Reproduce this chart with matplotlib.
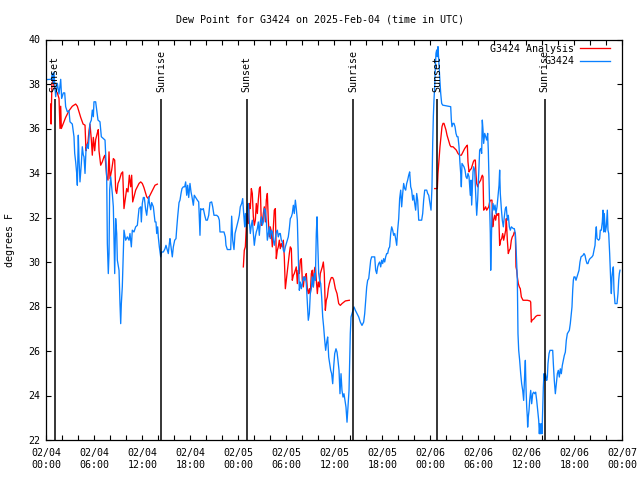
import matplotlib
matplotlib.use("Agg")
import matplotlib.pyplot as plt
import matplotlib.dates as mdates
import numpy as np
import pandas as pd

# ---------------- data (hours after 2025-02-04 00:00 UTC, dew point degF) ----------------
start_time = pd.Timestamp("2025-02-04 00:00")

obs_day1 = [(0.05,38.2),(0.63,38.21),(0.75,38.48),(0.88,38.03),(0.96,38.52),(1.17,37.43),(1.38,38.03),(1.59,37.55),(1.8,38.21),(1.92,37.35),(2.13,37.6),(2.3,37.6),(2.42,36.98),(2.63,36.75),(2.84,36.8),(2.96,36.3),(3.25,36.2),(3.46,35.63),(3.55,34.88),(3.67,34.5),(3.8,33.98),(3.88,33.45),(4.0,35.7),(4.09,34.6),(4.21,33.6),(4.38,34.43),(4.5,35.18),(4.63,34.8),(4.71,34.73),(4.84,33.98),(4.96,35.03),(5.13,35.3),(5.25,35.1),(5.46,36.23),(5.63,36.38),(5.75,36.83),(5.88,36.53),(5.96,37.2),(6.17,37.2),(6.3,36.83),(6.46,36.38),(6.71,36.3),(6.88,35.63),(7.13,35.55),(7.34,35.48),(7.55,33.83),(7.63,30.83),(7.75,29.48),(7.84,30.38),(7.92,33.23),(8.05,33.83),(8.25,33.08),(8.38,32.48),(8.46,31.13),(8.55,29.48),(8.67,31.95),(8.8,31.28),(8.88,30.08),(9.09,29.63),(9.21,28.13),(9.3,27.23),(9.38,28.13),(9.5,28.88),(9.63,30.45),(9.71,31.43),(9.92,30.98),(10.13,31.13),(10.34,30.98),(10.46,31.28),(10.63,30.68),(10.75,31.43),(10.96,31.35),(11.17,31.58),(11.38,31.65),(11.59,32.4),(11.8,32.48),(11.88,31.8),(12.0,32.63),(12.13,32.9),(12.25,32.9),(12.42,32.35),(12.55,32.1),(12.67,32.48),(12.8,32.93),(12.88,32.67),(13.05,32.35),(13.17,32.67),(13.38,32.48),(13.59,31.8),(13.71,31.8),(13.8,31.28),(13.92,31.58),(14.0,31.13),(14.13,30.68),(14.3,30.23),(14.42,30.45),(14.63,30.45),(14.84,30.6),(14.96,30.75),(15.13,30.53),(15.25,30.38),(15.38,30.83),(15.46,31.05),(15.59,30.68),(15.75,30.23),(15.88,30.68),(16.05,30.98),(16.21,31.05),(16.3,31.5),(16.42,32.03),(16.59,32.67),(16.71,32.78),(16.84,33.08),(16.96,33.3),(17.13,33.38),(17.3,33.38),(17.42,33.6),(17.55,33.0),(17.67,33.45),(17.8,32.9),(17.96,33.53),(18.09,33.15),(18.21,32.93),(18.38,32.55),(18.5,33.0),(18.67,32.9),(18.88,32.78),(19.05,32.7),(19.21,31.2),(19.3,32.4),(19.46,32.35),(19.63,32.4),(19.8,32.1),(19.96,31.88),(20.13,31.88),(20.3,32.1),(20.46,32.67),(20.67,32.7),(20.8,32.48),(20.96,32.1),(21.3,32.1),(21.5,32.03),(21.63,31.88),(21.71,31.35),(21.92,31.35),(22.21,31.35),(22.38,31.13),(22.46,30.75),(22.63,30.56),(22.88,30.56),(23.05,30.56),(23.17,32.06),(23.3,30.98),(23.46,30.56),(23.59,31.28),(23.8,31.58),(24.0,31.88)]

obs_day2 = [(24.13,32.1),(24.25,32.48),(24.42,32.63),(24.55,32.85),(24.67,32.18),(24.8,31.58),(24.88,32.18),(25.0,31.58),(25.13,32.48),(25.25,32.63),(25.38,31.8),(25.5,31.28),(25.63,31.65),(25.75,31.88),(25.88,31.28),(26.0,30.75),(26.13,31.13),(26.25,31.35),(26.38,31.5),(26.5,31.8),(26.63,31.2),(26.75,31.8),(26.88,32.03),(27.0,31.65),(27.13,31.8),(27.25,32.4),(27.38,32.33),(27.5,31.88),(27.63,30.98),(27.75,31.28),(27.88,31.58),(28.0,31.05),(28.13,31.43),(28.25,31.35),(28.38,30.98),(28.5,30.75),(28.63,31.05),(28.75,31.35),(28.88,31.43),(29.0,31.13),(29.13,31.28),(29.25,31.28),(29.38,30.98),(29.5,30.9),(29.63,30.53),(29.75,30.45),(29.88,30.68),(30.0,30.83),(30.13,30.98),(30.25,31.13),(30.38,31.5),(30.5,31.95),(30.63,32.03),(30.75,32.18),(30.88,32.55),(31.0,32.18),(31.13,32.78),(31.25,32.4),(31.38,31.88),(31.5,30.23),(31.63,28.73),(31.75,29.1),(31.88,28.8),(32.0,29.03),(32.13,29.33),(32.25,29.18),(32.38,29.33),(32.5,29.03),(32.63,28.13),(32.75,27.38),(32.88,27.68),(33.0,28.58),(33.13,28.8),(33.25,29.33),(33.38,28.88),(33.5,29.48),(33.63,29.18),(33.75,31.28),(33.84,32.03),(33.92,30.98),(34.05,29.48),(34.17,29.18),(34.3,29.03),(34.42,28.43),(34.55,27.53),(34.67,27.08),(34.8,26.48),(34.92,26.03),(35.05,26.4),(35.17,26.63),(35.3,25.73),(35.42,25.43),(35.55,25.13),(35.67,24.98),(35.8,24.53),(35.92,25.28),(36.05,25.88),(36.21,26.1),(36.34,25.95),(36.46,25.58),(36.59,25.13),(36.71,24.08),(36.84,24.98),(36.96,24.23),(37.09,23.93),(37.21,24.08),(37.34,23.78),(37.46,23.48),(37.59,22.8),(37.71,23.48),(37.84,24.23),(37.92,25.43),(38.0,26.78),(38.09,27.53),(38.21,27.68),(38.34,27.83),(38.46,27.98),(38.63,27.83),(38.84,27.68),(39.05,27.53),(39.25,27.3),(39.46,27.15),(39.67,27.3),(39.8,27.68),(39.92,28.28),(40.05,28.88),(40.17,29.18),(40.3,29.25),(40.42,29.63),(40.55,30.08),(40.67,30.23),(41.05,30.23),(41.17,29.63),(41.3,29.48),(41.42,29.78),(41.55,29.93),(41.67,30.0),(41.8,29.78),(41.92,30.08),(42.05,29.93),(42.17,30.15),(42.3,30.0),(42.42,30.23),(42.55,30.38),(42.67,30.38),(42.8,30.6),(42.92,30.68),(43.05,31.28),(43.17,31.58),(43.3,31.43),(43.42,31.2),(43.55,31.28),(43.67,31.05),(43.8,30.75),(43.92,31.43),(44.05,31.95),(44.17,32.85),(44.3,33.23),(44.42,32.48),(44.55,33.08),(44.67,33.53),(44.8,33.3),(44.92,33.23),(45.05,33.53),(45.17,33.68),(45.3,33.9),(45.42,34.05),(45.55,33.38),(45.67,33.23),(45.8,32.78),(45.92,33.0),(46.05,32.63),(46.17,32.33),(46.3,33.08),(46.42,32.78),(46.55,31.88),(46.92,31.88),(47.05,32.18),(47.17,32.78),(47.3,33.23),(47.55,33.23),(47.67,33.08),(47.8,33.0),(47.96,32.63)]

obs_day3 = [(48.09,32.33),(48.21,33.38),(48.3,35.33),(48.38,36.53),(48.46,37.28),(48.55,37.88),(48.63,38.78),(48.71,39.38),(48.8,39.53),(48.88,39.23),(48.96,39.68),(49.05,39.08),(49.17,38.33),(49.3,37.58),(49.42,37.13),(49.55,37.05),(50.55,36.98),(50.63,36.38),(50.71,36.08),(50.84,36.23),(50.96,36.23),(51.09,36.08),(51.21,35.78),(51.34,35.63),(51.46,35.63),(51.59,35.18),(51.71,34.43),(51.8,33.98),(51.88,33.38),(51.96,34.43),(52.09,34.35),(52.21,34.28),(52.34,34.13),(52.46,33.83),(52.59,33.75),(52.71,33.98),(52.84,33.83),(52.92,33.38),(53.0,33.0),(53.09,33.68),(53.17,32.56),(53.25,33.23),(53.34,34.05),(53.42,34.28),(53.55,34.13),(53.67,33.08),(53.8,32.1),(53.92,32.78),(54.05,33.98),(54.17,35.03),(54.3,35.1),(54.42,34.88),(54.5,36.38),(54.59,35.93),(54.67,35.33),(54.8,35.78),(54.92,35.63),(55.05,35.48),(55.17,35.78),(55.25,35.03),(55.34,33.68),(55.42,32.48),(55.5,31.28),(55.55,29.63),(55.63,30.98),(55.71,32.18),(55.84,32.63),(55.96,32.33),(56.09,32.56),(56.21,32.18),(56.34,32.48),(56.46,32.93),(56.59,33.45),(56.67,34.13),(56.75,33.08),(56.88,32.4),(57.0,31.88),(57.13,31.58),(57.25,32.03),(57.38,32.4),(57.5,32.48),(57.63,31.88),(57.75,32.1),(57.88,31.58),(58.0,31.43),(58.13,31.58),(58.38,31.5),(58.5,31.5),(58.63,31.28),(58.75,30.38),(58.88,29.18),(58.96,26.78),(59.05,26.03),(59.17,25.58),(59.3,24.98),(59.42,24.53),(59.55,24.23),(59.67,23.78),(59.8,24.98),(59.88,25.58),(59.96,24.38),(60.05,23.48),(60.13,23.03),(60.17,22.58),(60.25,23.03),(60.34,23.33),(60.42,23.78),(60.55,24.23),(60.67,23.63),(60.8,24.08),(60.92,24.15),(61.05,24.08),(61.17,24.15),(61.3,23.78),(61.42,23.33),(61.55,22.88),(61.63,22.28),(61.71,22.73),(61.8,22.28),(61.88,22.73),(61.96,22.28),(62.05,23.48),(62.13,24.38),(62.21,24.98),(62.3,24.68),(62.38,24.98),(62.46,24.83),(62.55,24.68),(62.63,24.83),(62.71,25.43),(62.84,25.88),(62.96,26.03),(63.3,26.03),(63.38,25.43),(63.5,24.68),(63.63,24.08),(63.75,24.53),(63.88,24.98),(64.0,25.13),(64.13,24.83),(64.25,25.2),(64.38,24.98),(64.5,25.35),(64.63,25.58),(64.75,25.8),(64.88,25.95),(65.0,26.48),(65.13,26.78),(65.38,26.93),(65.5,27.23),(65.63,27.68),(65.71,27.98),(65.8,28.73),(65.88,29.18),(65.96,29.33),(66.09,29.33),(66.21,29.18),(66.34,29.33),(66.46,29.48),(66.59,29.63),(66.71,30.0),(66.84,30.23),(67.09,30.3),(67.21,30.38),(67.34,30.3),(67.46,30.08),(67.59,29.93),(67.71,29.93),(67.84,30.08),(67.96,30.15),(68.21,30.23),(68.34,30.3),(68.46,30.53),(68.59,30.75),(68.67,31.28),(68.75,31.58),(68.84,31.05),(69.05,30.98),(69.17,31.05),(69.25,31.43),(69.38,31.43),(69.5,31.8),(69.59,32.33),(69.67,31.35),(69.75,32.18),(69.88,31.35),(70.0,31.58),(70.13,32.33),(70.21,31.43),(70.3,31.28),(70.42,30.38),(70.55,29.18),(70.63,28.58),(70.71,29.33),(70.8,29.63),(70.88,29.78),(70.96,28.73),(71.09,28.13),(71.34,28.13),(71.46,28.58),(71.55,29.18),(71.63,29.48),(71.71,29.63)]

analysis_day1 = [(0.55,37.1),(0.6,36.2),(0.7,38.0),(0.85,38.2),(0.96,37.9),(1.17,37.7),(1.38,37.6),(1.59,37.35),(1.71,36.0),(1.8,37.0),(1.88,36.0),(2.1,36.2),(2.42,36.5),(2.84,36.8),(3.25,37.0),(3.67,37.1),(3.88,37.0),(4.3,36.5),(4.6,36.2),(4.84,36.15),(4.96,35.0),(5.05,35.2),(5.21,35.4),(5.34,35.9),(5.46,36.2),(5.63,35.5),(5.75,34.8),(5.88,35.6),(6.05,35.0),(6.17,35.5),(6.38,35.8),(6.5,35.95),(6.59,35.0),(6.8,34.35),(7.0,34.5),(7.21,34.73),(7.34,34.8),(7.55,33.83),(7.71,33.68),(7.84,34.95),(7.96,33.75),(8.17,34.13),(8.38,34.65),(8.55,34.58),(8.67,33.23),(8.8,33.08),(8.96,33.53),(9.13,33.68),(9.38,33.98),(9.55,34.05),(9.71,32.4),(9.88,32.85),(10.05,33.3),(10.21,33.15),(10.38,33.9),(10.55,33.38),(10.67,33.9),(10.8,32.7),(10.96,32.93),(11.17,33.23),(11.38,33.38),(11.59,33.53),(11.8,33.6),(12.0,33.53),(12.2,33.35),(12.55,32.93),(12.75,32.85),(13.17,33.15),(13.59,33.45),(13.88,33.5)]

analysis_day2 = [(24.63,29.78),(24.75,30.53),(24.88,30.68),(25.0,31.58),(25.13,32.18),(25.25,31.73),(25.38,32.63),(25.5,32.4),(25.63,33.3),(25.75,33.08),(25.88,32.03),(26.0,31.65),(26.13,31.88),(26.25,32.63),(26.38,32.18),(26.5,32.78),(26.63,33.3),(26.75,33.38),(26.88,31.65),(27.0,31.8),(27.13,32.18),(27.25,32.48),(27.38,31.8),(27.5,32.78),(27.63,33.08),(27.75,31.88),(27.88,31.13),(28.0,31.58),(28.13,31.35),(28.25,30.68),(28.38,31.58),(28.5,32.33),(28.63,32.4),(28.75,30.15),(28.88,30.53),(29.0,30.68),(29.13,30.98),(29.25,30.6),(29.38,30.83),(29.5,30.68),(29.63,30.98),(29.75,30.23),(29.88,28.8),(30.0,29.18),(30.13,29.63),(30.25,30.0),(30.38,30.38),(30.5,30.68),(30.63,30.6),(30.75,29.18),(30.88,29.4),(31.0,29.48),(31.13,29.63),(31.25,29.78),(31.38,29.03),(31.5,29.63),(31.63,29.48),(31.75,30.08),(31.88,30.15),(32.0,29.18),(32.13,28.88),(32.25,29.33),(32.38,29.33),(32.5,29.48),(32.63,28.8),(32.75,28.58),(32.88,28.8),(33.0,28.58),(33.13,29.48),(33.25,29.63),(33.38,28.88),(33.5,29.63),(33.63,29.78),(33.75,29.18),(33.88,28.58),(34.0,29.1),(34.13,28.88),(34.25,29.48),(34.38,29.63),(34.5,29.78),(34.63,30.0),(34.75,29.48),(34.88,27.83),(35.0,28.28),(35.13,28.43),(35.25,28.8),(35.38,29.03),(35.5,29.18),(35.63,29.3),(35.79,29.3),(35.92,29.2),(36.13,28.8),(36.34,28.58),(36.55,28.13),(36.75,28.05),(36.96,28.13),(37.38,28.25),(37.88,28.28)]

analysis_day3 = [(48.55,33.3),(48.88,33.3),(48.96,33.98),(49.09,34.58),(49.21,35.18),(49.34,35.63),(49.46,36.08),(49.59,36.23),(49.71,36.23),(49.84,36.08),(49.96,35.93),(50.09,35.7),(50.21,35.55),(50.34,35.4),(50.46,35.25),(50.59,35.18),(50.84,35.18),(51.05,35.1),(51.25,35.03),(51.46,34.88),(51.67,34.8),(51.88,34.8),(52.09,34.95),(52.3,35.1),(52.5,35.2),(52.63,35.25),(52.71,34.5),(52.84,34.05),(52.96,34.13),(53.13,34.2),(53.25,34.35),(53.38,34.5),(53.5,34.58),(53.63,34.58),(53.71,33.98),(53.8,33.53),(53.92,33.38),(54.05,33.53),(54.17,33.6),(54.3,33.68),(54.42,33.83),(54.5,33.9),(54.59,33.83),(54.67,32.33),(54.8,32.4),(54.92,32.48),(55.05,32.33),(55.17,32.4),(55.3,32.48),(55.42,32.7),(55.55,32.78),(55.71,32.78),(55.8,31.58),(55.92,31.88),(56.05,32.1),(56.17,31.88),(56.3,32.18),(56.42,32.1),(56.55,32.18),(56.67,30.75),(56.8,30.98),(56.92,31.05),(57.05,31.28),(57.17,30.98),(57.3,31.2),(57.42,31.43),(57.5,31.95),(57.63,30.98),(57.75,30.38),(57.88,30.53),(58.0,30.6),(58.13,30.98),(58.25,31.13),(58.38,31.2),(58.5,31.35),(58.63,31.28),(58.71,29.78),(58.8,29.63),(58.88,29.33),(59.0,29.03),(59.13,28.88),(59.25,28.8),(59.38,28.43),(59.59,28.28),(59.8,28.28),(60.13,28.28),(60.46,28.25),(60.55,28.2),(60.63,27.3),(60.71,27.38),(60.96,27.45),(61.17,27.55),(61.38,27.6),(61.71,27.6)]

sun_event_hours = [1.05, 14.38, 25.05, 38.38, 48.88, 62.3]
sun_event_labels = ["Sunset", "Sunrise", "Sunset", "Sunrise", "Sunset", "Sunrise"]

title_text = "Dew Point for G3424 on 2025-Feb-04 (time in UTC)"
series_names = ["G3424 Analysis", "G3424"]

# ---------------- build series ----------------
def to_times(hours):
    return start_time + pd.to_timedelta(np.asarray(hours, dtype=float), unit="h")

obs = obs_day1 + obs_day2 + obs_day3
obs_h = [p[0] for p in obs]
obs_v = [p[1] for p in obs]

ana_h, ana_v = [], []
for seg in (analysis_day1, analysis_day2, analysis_day3):
    ana_h += [p[0] for p in seg] + [seg[-1][0] + 0.01]
    ana_v += [p[1] for p in seg] + [np.nan]

# ---------------- figure ----------------
FONT = "DejaVu Sans Mono"
FS = 7.2
plt.rcParams["font.family"] = FONT
plt.rcParams["font.size"] = FS

fig = plt.figure(figsize=(6.4, 4.8), dpi=100)
L, R, T, B = 46.3, 622.3, 39.5, 440.0
ax = fig.add_axes([L / 640, 1 - B / 480, (R - L) / 640, (B - T) / 480])

ax.plot(to_times(ana_h), ana_v, color="#ff0000", lw=0.95, label=series_names[0])
ax.plot(to_times(obs_h), obs_v, color="#0a80ff", lw=0.95, label=series_names[1])

ev_times = to_times(sun_event_hours)
ax.vlines(ev_times, 22, 37.32, color="black", lw=1.1)
for t, lab in zip(ev_times, sun_event_labels):
    ax.text(t, 37.64, lab, rotation=90, ha="center", va="bottom", fontsize=FS)

ax.set_xlim(start_time, start_time + pd.Timedelta(hours=72))
ax.set_ylim(22, 40)
ax.set_yticks(np.arange(22, 41, 2))

ax.xaxis.set_major_locator(mdates.HourLocator(byhour=[0, 6, 12, 18]))
ax.xaxis.set_minor_locator(mdates.HourLocator(byhour=range(0, 24, 2)))
ax.xaxis.set_major_formatter(mdates.DateFormatter("%m/%d\n%H:%M"))

ax.tick_params(which="both", direction="in", top=True, right=True,
               length=3.3, width=0.8, color="black", labelsize=FS)
ax.tick_params(axis="x", which="major", pad=5.5)
ax.tick_params(axis="y", which="major", pad=4)
for lbl in ax.get_xticklabels():
    lbl.set_linespacing(1.3)
for s in ax.spines.values():
    s.set_linewidth(0.9)
    s.set_color("black")

fig.text(0.5, 1 - 19 / 480, title_text, ha="center", va="center", fontsize=FS)
fig.text(10 / 640, 1 - 240 / 480, "degrees F", rotation=90, ha="center", va="center", fontsize=FS)

ax.legend(loc="upper right", bbox_to_anchor=((610 - L) / (R - L), 1 - (43.5 - T) / (B - T)),
          borderaxespad=0, borderpad=0, frameon=False, markerfirst=False,
          handlelength=3.0, handletextpad=0.6, labelspacing=0.28, fontsize=FS)

fig.savefig("out.png", dpi=100)
